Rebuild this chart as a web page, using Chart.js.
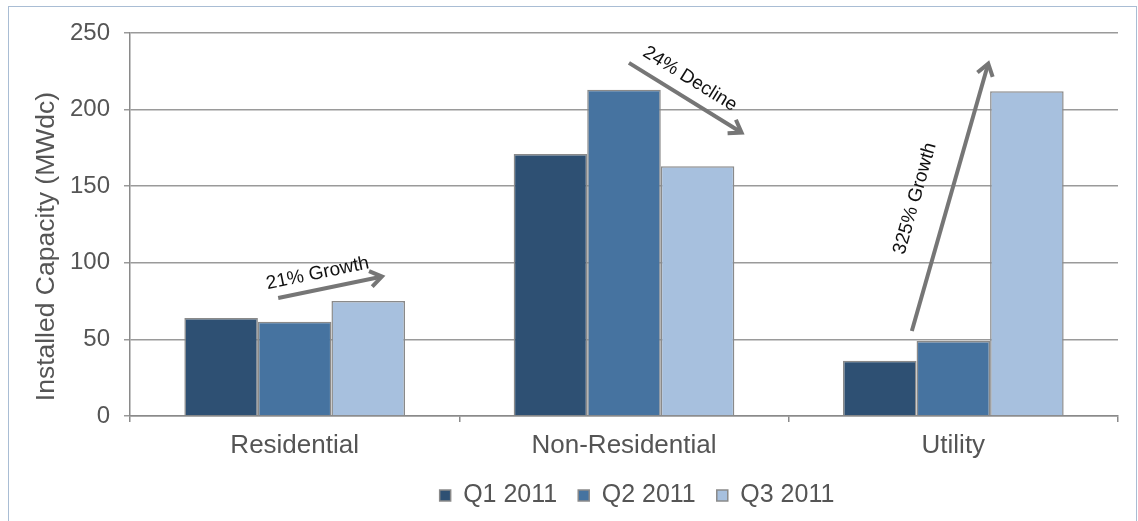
<!DOCTYPE html>
<html>
<head>
<meta charset="utf-8">
<script src="https://cdn.jsdelivr.net/npm/chart.js@4.4.0/dist/chart.umd.min.js"></script>
<style>
  html, body { margin: 0; padding: 0; background: #fff; }
  #frame {
    position: absolute; left: 8px; top: 6px; width: 1127px; height: 530px;
    border: 1px solid #a9bdd4;
  }
  #wrap { position: absolute; left: 0; top: 0; width: 1138px; height: 521px; }
</style>
</head>
<body>
<div id="frame"></div>
<div id="wrap"><canvas id="chart" width="1138" height="521"></canvas></div>
<script>
const categories = ["Residential", "Non-Residential", "Utility"];
const seriesNames = ["Q1 2011", "Q2 2011", "Q3 2011"];
const q1Values = [64, 171, 36];
const q2Values = [61.5, 213, 49];
const q3Values = [75, 163, 212];
const barColors = ["#2e5073", "#4673a0", "#a7c0de"];
const yTicks = [0, 50, 100, 150, 200, 250];

// trend arrows, in category index / value units
const arrowNotes = [
  { text: "21% Growth", from: [-0.05, 77], to: [0.265, 91], at: [0.07, 93] },
  { text: "24% Decline", from: [1.015, 230.5], to: [1.357, 185], at: [1.2, 220] },
  { text: "325% Growth", from: [1.874, 55.5], to: [2.106, 230], at: [1.884, 142] },
];

const font = "'Liberation Sans', Arial, sans-serif";
const gray = "#555555";

const arrowPlugin = {
  id: "arrows",
  afterLayout(chart) {
    // legend sits a bit right of centre in the original
    chart.legend.left += 78;
    chart.legend.right += 78;
  },
  afterDatasetsDraw(chart) {
    const ctx = chart.ctx;
    const x = chart.scales.x, y = chart.scales.y;
    arrowNotes.forEach((a) => {
      const x1 = x.getPixelForValue(a.from[0]), y1 = y.getPixelForValue(a.from[1]);
      const x2 = x.getPixelForValue(a.to[0]), y2 = y.getPixelForValue(a.to[1]);
      const ang = Math.atan2(y2 - y1, x2 - x1);
      ctx.save();
      ctx.strokeStyle = "#767676";
      ctx.lineWidth = 4;
      ctx.lineCap = "butt";
      ctx.beginPath();
      ctx.moveTo(x1, y1);
      ctx.lineTo(x2 - 2 * Math.cos(ang), y2 - 2 * Math.sin(ang));
      ctx.stroke();
      const h = 14;
      ctx.lineJoin = "miter";
      ctx.beginPath();
      ctx.moveTo(x2 - h * Math.cos(ang - 0.6), y2 - h * Math.sin(ang - 0.6));
      ctx.lineTo(x2, y2);
      ctx.lineTo(x2 - h * Math.cos(ang + 0.6), y2 - h * Math.sin(ang + 0.6));
      ctx.stroke();

      const tx = x.getPixelForValue(a.at[0]), ty = y.getPixelForValue(a.at[1]);
      ctx.translate(tx, ty);
      ctx.rotate(ang);
      ctx.fillStyle = "#111";
      ctx.font = "19px " + font;
      ctx.textAlign = "center";
      ctx.textBaseline = "middle";
      ctx.fillText(a.text, 0, 0);
      ctx.restore();
    });
  },
};

const values = [q1Values, q2Values, q3Values];

new Chart(document.getElementById("chart"), {
  type: "bar",
  data: {
    labels: categories,
    datasets: seriesNames.map((name, i) => ({
      label: name,
      data: values[i],
      backgroundColor: barColors[i],
      borderColor: "#8a8a8a",
      borderWidth: 1.5,
      categoryPercentage: 0.67,
      barPercentage: 1.0,
    })),
  },
  options: {
    responsive: false,
    animation: false,
    devicePixelRatio: 1,
    layout: { padding: { left: 0, top: 33, right: 20, bottom: 3 } },
    plugins: {
      tooltip: { enabled: false },
      legend: {
        position: "bottom",
        labels: {
          color: gray,
          font: { family: font, size: 25 },
          boxWidth: 11,
          boxHeight: 11,
          padding: 21,
        },
      },
    },
    scales: {
      x: {
        afterFit(scale) { scale.height = 46; },
        grid: {
          drawOnChartArea: false,
          tickLength: 6,
          color: "#8a8a8a",
          lineWidth: 1.5,
        },
        border: { color: "#8a8a8a", width: 1.5 },
        ticks: { color: gray, font: { family: font, size: 26 }, padding: 8 },
      },
      y: {
        min: 0,
        max: 250,
        afterFit(scale) { scale.width = 130; },
        afterBuildTicks(scale) { scale.ticks = yTicks.map((v) => ({ value: v })); },
        grid: { color: "#9a9a9a", lineWidth: 1.5, tickLength: 6 },
        border: { color: "#8a8a8a", width: 1.5 },
        ticks: { color: gray, font: { family: font, size: 24 }, padding: 14 },
        title: {
          display: true,
          // trailing spaces nudge the label down like the original
          text: "Installed Capacity (MWdc)      ",
          color: gray,
          font: { family: font, size: 26.5 },
          padding: { top: 31, bottom: 0 },
        },
      },
    },
  },
  plugins: [arrowPlugin],
});
</script>
</body>
</html>
